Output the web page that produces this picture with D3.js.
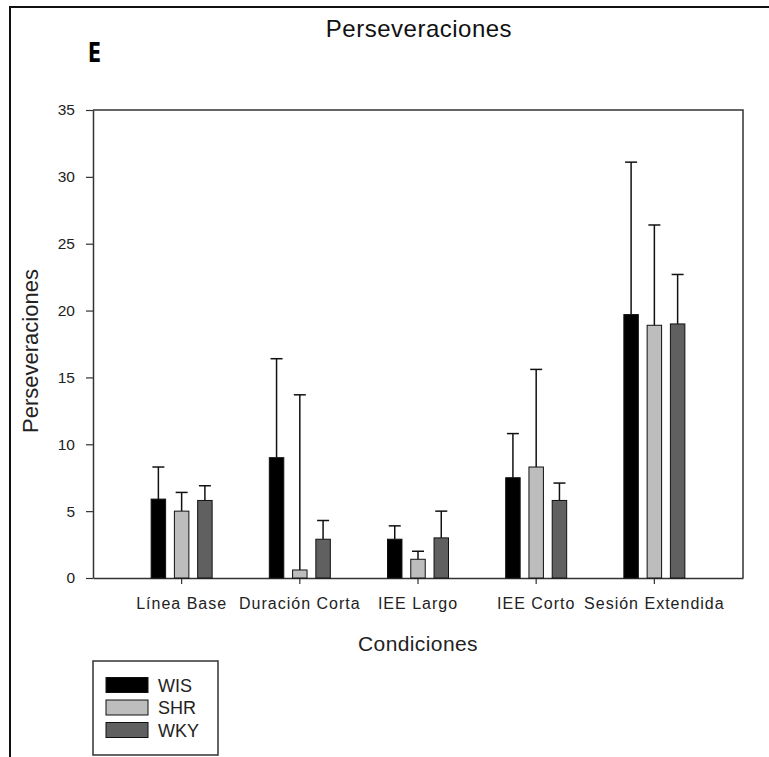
<!DOCTYPE html>
<html>
<head>
<meta charset="utf-8">
<script src="https://cdn.jsdelivr.net/npm/d3@7/dist/d3.min.js"></script>
<style>
  html, body { margin: 0; padding: 0; background: #fff; }
  svg { display: block; font-family: "Liberation Sans", Arial, sans-serif; }
</style>
</head>
<body>
<svg id="chart" width="769" height="757"></svg>
<script>
// Conditions along the x axis
const categories = ["Línea Base", "Duración Corta", "IEE Largo", "IEE Corto", "Sesión Extendida"];
// Strains (series)
const seriesNames = ["WIS", "SHR", "WKY"];
// Mean perseverations per condition
const wisMean = [5.9, 9.0, 2.9, 7.5, 19.7];
const shrMean = [5.0, 0.6, 1.4, 8.3, 18.9];
const wkyMean = [5.8, 2.9, 3.0, 5.8, 19.0];
// Upper error (added above the mean)
const wisErr = [2.4, 7.4, 1.0, 3.3, 11.4];
const shrErr = [1.4, 13.1, 0.6, 7.3, 7.5];
const wkyErr = [1.1, 1.4, 2.0, 1.3, 3.7];
// Y axis ticks
const yTicks = [0, 5, 10, 15, 20, 25, 30, 35];

const seriesColors = { WIS: "#000000", SHR: "#bdbdbd", WKY: "#606060" };
const means = { WIS: wisMean, SHR: shrMean, WKY: wkyMean };
const errs = { WIS: wisErr, SHR: shrErr, WKY: wkyErr };

const svg = d3.select("#chart");
const plot = { left: 93, right: 743, top: 110, bottom: 578 };

// Outer panel border (left and top edges visible)
svg.append("rect")
  .attr("x", 10).attr("y", 7)
  .attr("width", 900).attr("height", 900)
  .attr("fill", "none").attr("stroke", "#111").attr("stroke-width", 2);

const x0 = d3.scaleBand().domain(categories)
  .range([plot.left, plot.right]).paddingInner(0).paddingOuter(0.25);
const x1 = d3.scaleBand().domain(seriesNames)
  .range([-30.5, 30.5]).paddingInner(0.378).paddingOuter(0);
const y = d3.scaleLinear().domain([0, 35]).range([plot.bottom, plot.top]);

// Plot frame (top and right)
svg.append("path")
  .attr("d", `M${plot.left},${plot.top}H${plot.right}V${plot.bottom}`)
  .attr("fill", "none").attr("stroke", "#333").attr("stroke-width", 1.5);

// Y axis
const yAxis = svg.append("g")
  .attr("transform", `translate(${plot.left},0)`)
  .call(d3.axisLeft(y).tickValues(yTicks).tickSize(7).tickPadding(11).tickSizeOuter(0));
yAxis.select(".domain").attr("stroke", "#333").attr("stroke-width", 1.5);
yAxis.selectAll(".tick line").attr("stroke", "#333").attr("stroke-width", 1.2);
yAxis.selectAll(".tick text").attr("font-size", 15.5).attr("fill", "#222")
  .attr("font-family", "Liberation Sans, Arial, sans-serif");

// X axis
const xAxis = svg.append("g")
  .attr("transform", `translate(0,${plot.bottom})`)
  .call(d3.axisBottom(x0).tickSize(6).tickPadding(14).tickSizeOuter(0));
xAxis.select(".domain").attr("stroke", "#333").attr("stroke-width", 1.5);
xAxis.selectAll(".tick line").attr("stroke", "#333").attr("stroke-width", 1.2);
xAxis.selectAll(".tick text").attr("font-size", 16).attr("fill", "#222")
  .attr("letter-spacing", "1px")
  .attr("font-family", "Liberation Sans, Arial, sans-serif");

// Bars and error bars
const groups = svg.append("g").selectAll("g")
  .data(categories).join("g")
  .attr("transform", d => `translate(${x0(d) + x0.bandwidth() / 2},0)`);

seriesNames.forEach(s => {
  const cx = x1(s) + x1.bandwidth() / 2;
  groups.each(function(c, i) {
    const g = d3.select(this);
    const m = means[s][i], e = errs[s][i];
    // error bar (upper only)
    g.append("line")
      .attr("x1", cx).attr("x2", cx)
      .attr("y1", y(m)).attr("y2", y(m + e))
      .attr("stroke", "#111").attr("stroke-width", 1.5);
    g.append("line")
      .attr("x1", cx - 6).attr("x2", cx + 6)
      .attr("y1", y(m + e)).attr("y2", y(m + e))
      .attr("stroke", "#111").attr("stroke-width", 1.5);
    g.append("rect")
      .attr("x", x1(s)).attr("width", x1.bandwidth())
      .attr("y", y(m)).attr("height", y(0) - y(m))
      .attr("fill", seriesColors[s]).attr("stroke", "#111").attr("stroke-width", 1);
  });
});

// Titles
svg.append("text").attr("x", 419).attr("y", 37)
  .attr("text-anchor", "middle").attr("font-size", 24).attr("letter-spacing", "0.5px")
  .attr("fill", "#111").text("Perseveraciones");

// Panel letter, drawn narrow and tall
svg.append("text")
  .attr("transform", "translate(88,62) scale(0.8,1.1)")
  .attr("font-size", 24).attr("font-weight", "bold")
  .attr("font-family", "DejaVu Sans, sans-serif")
  .attr("fill", "#000").text("E");

svg.append("text")
  .attr("transform", "translate(38,351) rotate(-90)")
  .attr("text-anchor", "middle").attr("font-size", 22)
  .attr("fill", "#222").text("Perseveraciones");

svg.append("text").attr("x", 418).attr("y", 651)
  .attr("text-anchor", "middle").attr("font-size", 21).attr("letter-spacing", "0.4px")
  .attr("fill", "#222").text("Condiciones");

// Legend
const legend = svg.append("g");
legend.append("rect").attr("x", 93).attr("y", 661).attr("width", 125).attr("height", 94)
  .attr("fill", "#fff").attr("stroke", "#333").attr("stroke-width", 1.5);
const ly = d3.scalePoint().domain(seriesNames).range([685, 730]);
seriesNames.forEach(s => {
  legend.append("rect").attr("x", 106).attr("y", ly(s) - 7.5)
    .attr("width", 42).attr("height", 15)
    .attr("fill", seriesColors[s]).attr("stroke", "#111").attr("stroke-width", 1);
  legend.append("text").attr("x", 158).attr("y", ly(s) + 6.5)
    .attr("font-size", 18).attr("fill", "#222").text(s);
});
</script>
</body>
</html>
